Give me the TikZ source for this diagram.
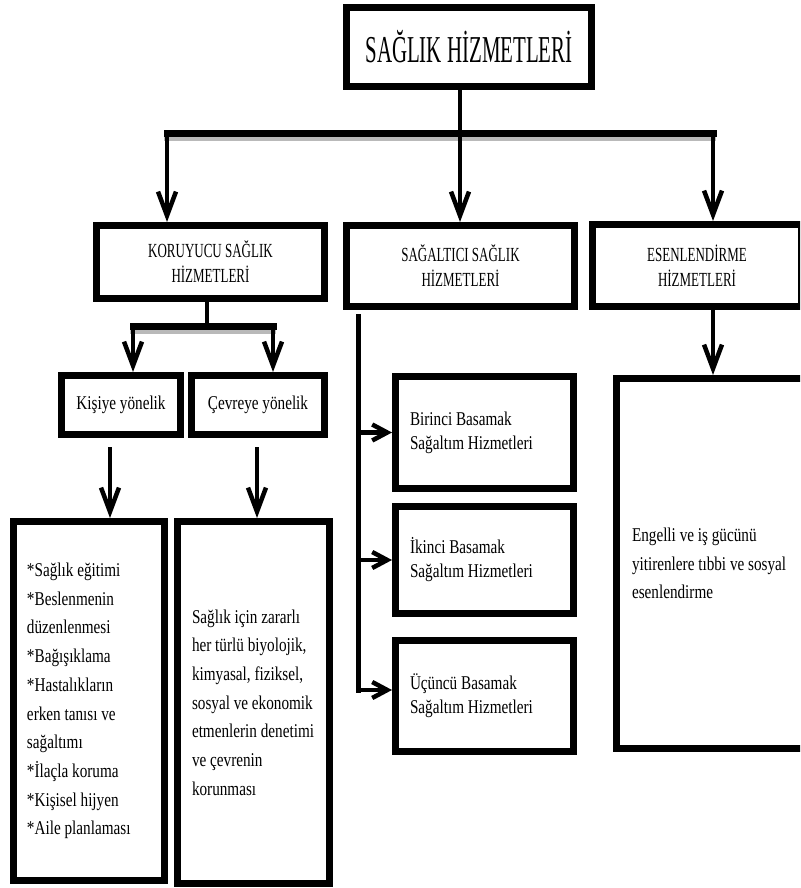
\documentclass[tikz,border=0pt]{standalone}
\usepackage{fontspec}
\setmainfont{Liberation Serif}
\newfontfamily\baslikfont{Liberation Serif}[FakeStretch=0.55]
\newfontfamily\ustfont{Liberation Serif}[FakeStretch=0.65]
\newfontfamily\metinfont{Liberation Serif}[FakeStretch=0.78]
\usetikzlibrary{arrows.meta}

\tikzset{
  kutu/.style={draw, line width=7pt, inner sep=0pt},
  ust/.style={kutu, align=center, font=\ustfont\fontsize{20}{25}\selectfont},
  secim/.style={kutu, font=\metinfont\fontsize{19.5}{24}\selectfont},
  metin/.style={kutu, align=flush left, font=\metinfont\fontsize{19.5}{28.7}\selectfont},
  basamak/.style={metin, font=\metinfont\fontsize{19.5}{24}\selectfont,
    inner xsep=14.5pt, text width=149pt},
  ok/.style={line width=4.5pt, -{Straight Barb[length=24pt,width=18pt,line width=4.5pt]}},
  yok/.style={line width=4.5pt, -{Straight Barb[length=15pt,width=16pt,line width=4.5pt]}},
  cubuk/.style={line width=7pt, line cap=rect},
  golge/.style={line width=6pt, line cap=rect, gray!55},
}
\def\cizgi{\draw[line width=4.5pt]}

\begin{document}
\begin{tikzpicture}[x=1pt,y=-1pt]
  \useasboundingbox (0,0) rectangle (800,888);
  \clip (0,0) rectangle (800,888);

  % kutular
  \node[kutu, font=\baslikfont\fontsize{38}{40}\selectfont,
        minimum width=245pt, minimum height=79pt] (saglik) at (469,47) {SAĞLIK HİZMETLERİ};
  \node[ust, minimum width=228pt, minimum height=73pt] (koruyucu) at (210.5,262) {KORUYUCU SAĞLIK\\HİZMETLERİ};
  \node[ust, minimum width=228pt, minimum height=81pt] (sagaltici) at (460.5,266) {SAĞALTICI SAĞLIK\\HİZMETLERİ};
  \node[ust, minimum width=209pt, minimum height=82pt] (esen) at (697,265.5) {ESENLENDİRME\\HİZMETLERİ};
  \node[secim, minimum width=119pt, minimum height=59pt] (kisi) at (121,405) {Kişiye yönelik};
  \node[secim, minimum width=133pt, minimum height=59pt] (cevre) at (258,405) {Çevreye yönelik};
  \node[metin, inner xsep=13.5pt, text width=124pt, minimum height=359pt] (kisiliste) at (89,701)
    {{*}Sağlık eğitimi\\{*}Beslenmenin\\düzenlenmesi\\{*}Bağışıklama\\{*}Hastalıkların\\erken tanısı ve\\sağaltımı\\{*}İlaçla koruma\\{*}Kişisel hijyen\\{*}Aile planlaması};
  \node[metin, inner xsep=14.5pt, text width=123pt, minimum height=362pt] (cevreliste) at (253.5,702.5)
    {Sağlık için zararlı\\her~türlü~biyolojik,\\kimyasal,~fiziksel,\\sosyal~ve~ekonomik\\etmenlerin~denetimi\\ve çevrenin\\korunması};
  \node[basamak, minimum height=112pt] (birinci) at (484.5,432.5) {Birinci Basamak\\Sağaltım Hizmetleri};
  \node[basamak, minimum height=107pt] (ikinci) at (484.5,560) {İkinci Basamak\\Sağaltım Hizmetleri};
  \node[basamak, minimum height=111pt] (ucuncu) at (484.5,696) {Üçüncü Basamak\\Sağaltım Hizmetleri};
  \node[metin, font=\metinfont\fontsize{19.5}{28.5}\selectfont, inner xsep=15.5pt, text width=161pt,
        minimum height=370pt] (engelli) at (712.5,563.5)
    {Engelli ve iş gücünü\\yitirenlere~tıbbi~ve~sosyal\\esenlendirme};

  % ust dallar
  \coordinate (b0) at (460,133);
  \coordinate (b1) at (167,133);
  \coordinate (b3) at (713,133);
  \cizgi (saglik.south -| b0) -- (b0);
  \draw[golge] ([yshift=-5pt]b1) -- ([yshift=-5pt]b3);
  \draw[cubuk] (b1) -- (b3);
  \foreach \k/\h in {b1/koruyucu, b0/sagaltici, b3/esen}
    \draw[ok] (\k) -- (\k |- \h.north);

  % koruyucu dallari
  \coordinate (c0) at (207,326);
  \coordinate (c1) at (133,326);
  \coordinate (c2) at (273,326);
  \cizgi (koruyucu.south -| c0) -- (c0);
  \draw[golge] ([yshift=-5pt]c1) -- ([yshift=-5pt]c2);
  \draw[cubuk] (c1) -- (c2);
  \foreach \k/\h in {c1/kisi, c2/cevre}
    \draw[ok] (\k) -- (\k |- \h.north);

  \coordinate (d1) at (110,447);
  \coordinate (d2) at (257,447);
  \draw[ok] (d1) -- (d1 |- kisiliste.north);
  \draw[ok] (d2) -- (d2 |- cevreliste.north);

  % sagaltim basamaklari
  \coordinate (m0) at (358,316);
  \coordinate (m3) at (358,690);
  \draw[line width=5pt, line cap=rect] (m0) -- (m3);
  \draw[yok] (m0 |- birinci) -- (birinci.west);
  \draw[yok] (m0 |- ikinci) -- (ikinci.west);
  \draw[yok] (m3) -- (m3 -| ucuncu.west);

  % esenlendirme
  \draw[ok] (esen.south -| b3) -- (b3 |- engelli.north);
\end{tikzpicture}
\end{document}
